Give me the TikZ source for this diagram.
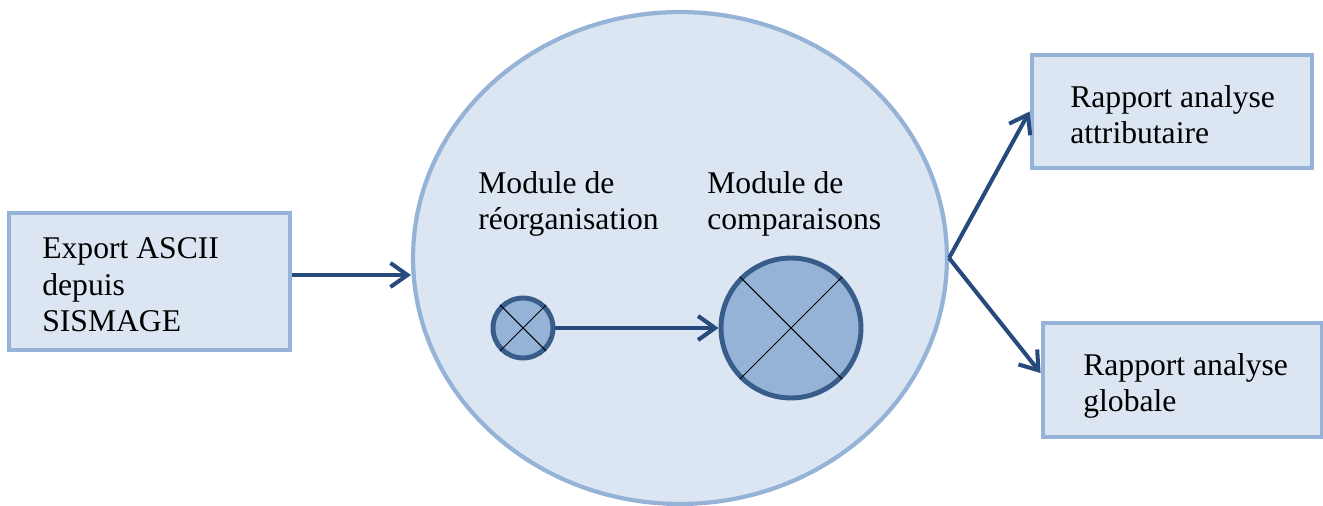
\documentclass[tikz,border=0pt]{standalone}
\usepackage{fontspec}
\setmainfont{Liberation Serif}
\usetikzlibrary{
  shapes.geometric,
  arrows.meta
}
\definecolor{boxfill}{RGB}{220,230,242}
\definecolor{boxline}{RGB}{149,179,215}
\definecolor{unitfill}{RGB}{149,179,215}
\definecolor{unitline}{RGB}{56,93,138}
\definecolor{flowcol}{RGB}{38,74,124}
\tikzset{
  databox/.style={
    rectangle,
    draw=boxline,
    line width=2.8pt,
    fill=boxfill,
    inner sep=0pt
  },
  zone/.style={
    ellipse,
    draw=boxline,
    line width=2.4pt,
    fill=boxfill,
    inner sep=0pt,
    minimum width=10.68cm,
    minimum height=9.84cm
  },
  unit/.style={
    circle,
    draw=unitline,
    line width=2.8pt,
    fill=unitfill,
    inner sep=0pt,
    minimum size=#1
  },
  flow/.style={
    -{Straight Barb[length=3.4mm,width=4.8mm]},
    line width=2.3pt,
    color=flowcol
  },
  boxtext/.style={
    font=\fontsize{18}{21}\selectfont,
    align=left,
    inner sep=0pt,
    anchor=base west
  }
}

\begin{document}
\begin{tikzpicture}[x=0.02cm, y=-0.02cm]
  \useasboundingbox (0,0) rectangle (1323,506);

  % Input
  \node[databox, minimum width=5.62cm, minimum height=2.74cm] (export) at (149.5,281.5) {};
  \node[boxtext] at (42,332) {Export ASCII\\depuis\\SISMAGE};

  % Processing
  \node[zone] (core) at (680,258) {};

  \node[unit=1.2cm] (reorg) at (523,328) {};
  \draw[line width=0.6pt] (reorg.north west) -- (reorg.south east);
  \draw[line width=0.6pt] (reorg.south west) -- (reorg.north east);
  \node[boxtext] at (478,230) {Module de\\réorganisation};

  \node[unit=2.8cm] (compare) at (791,328) {};
  \draw[line width=0.6pt] (compare.north west) -- (compare.south east);
  \draw[line width=0.6pt] (compare.south west) -- (compare.north east);
  \node[boxtext] at (707,230) {Module de\\comparaisons};

  % Outputs
  \node[databox, minimum width=5.6cm, minimum height=2.26cm] (attrrep) at (1172,111.5) {};
  \node[boxtext] at (1070,144) {Rapport analyse\\attributaire};

  \node[databox, minimum width=5.58cm, minimum height=2.28cm] (globrep) at (1182.5,380) {};
  \node[boxtext] at (1083,412) {Rapport analyse\\globale};

  % Arrows
  \draw[flow] ([yshift=0.13cm]export.east) -- ([yshift=0.13cm]export.east -| core.west);
  \draw[flow] (reorg) -- (compare);
  \draw[flow] (core.east) -- (attrrep.west);
  \draw[flow] (core.east) -- ([yshift=0.14cm]globrep.west);

\end{tikzpicture}
\end{document}
